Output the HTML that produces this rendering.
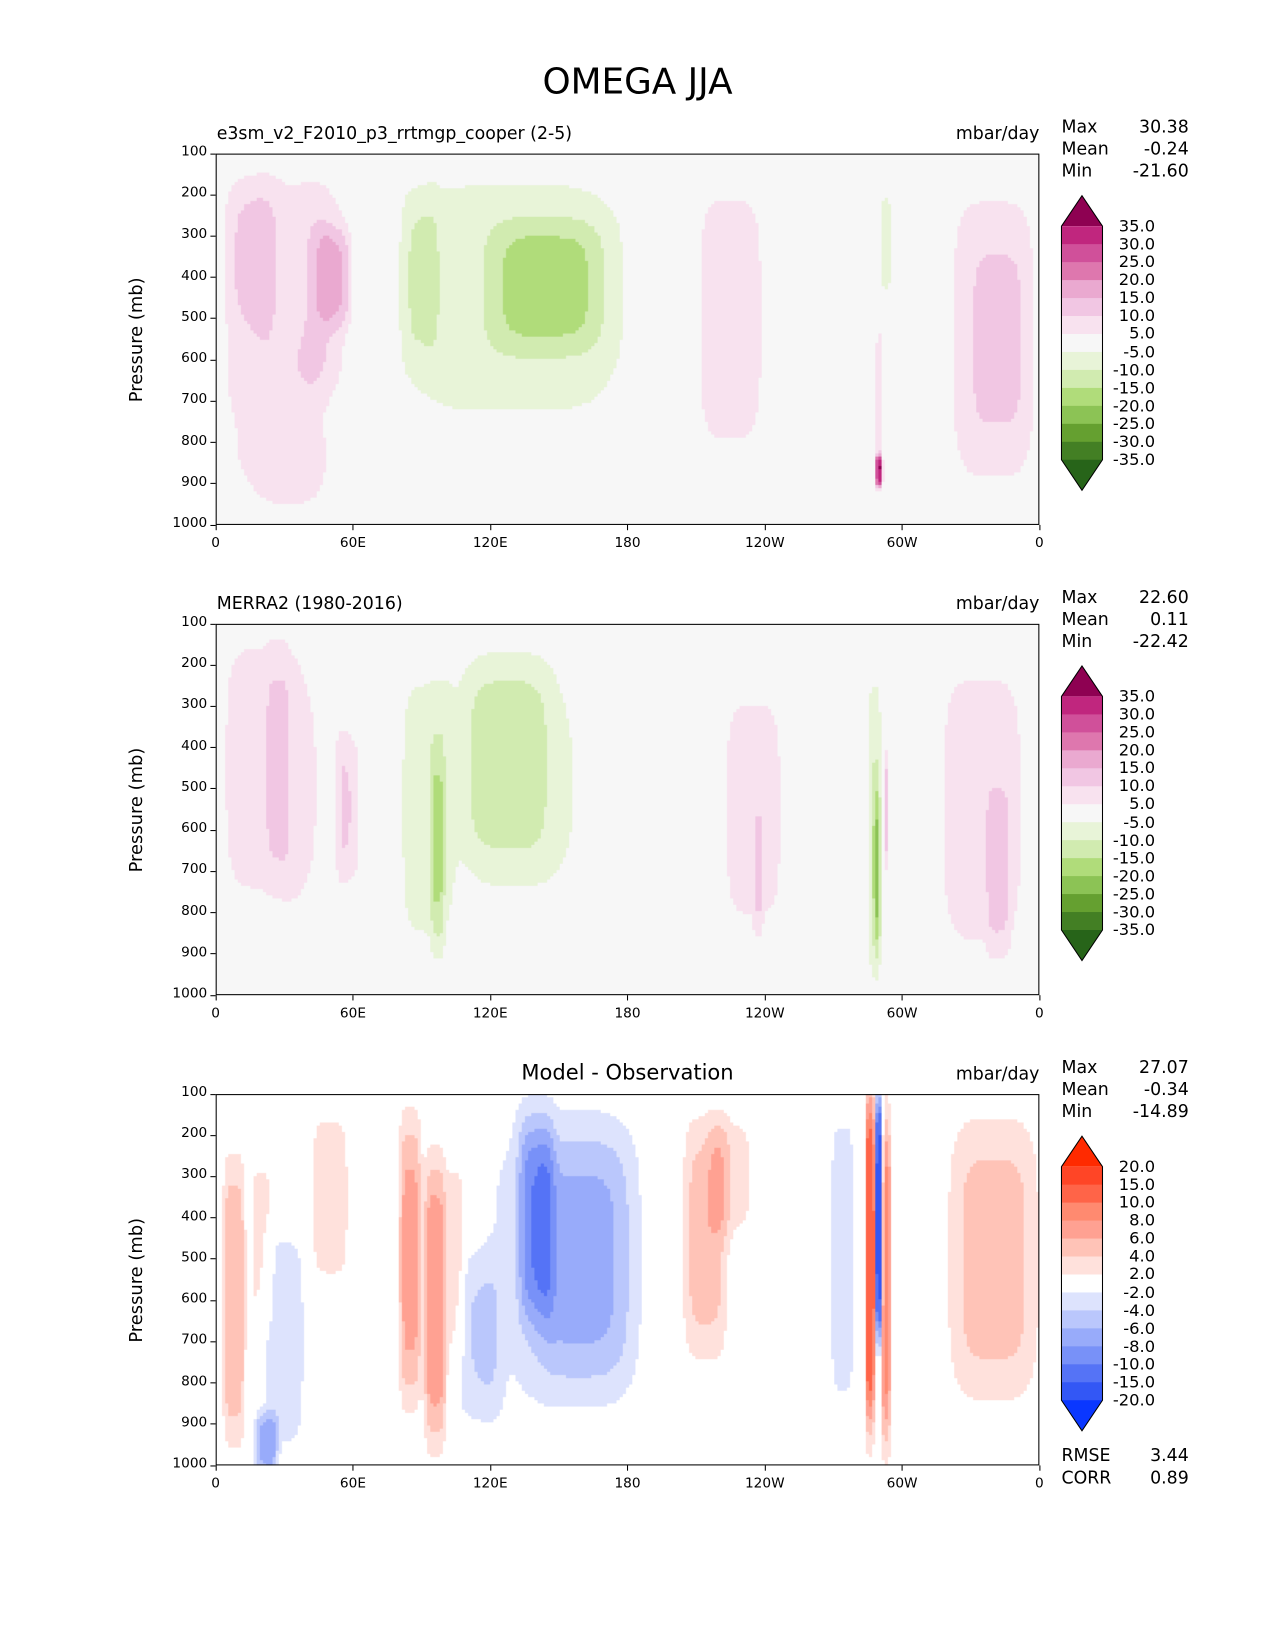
<!DOCTYPE html>
<html><head><meta charset="utf-8">
<style>
body{margin:0;background:#fff;font-family:"DejaVu Sans","Liberation Sans",sans-serif;overflow:hidden;}
#root{position:relative;width:1212px;height:1568px;overflow:hidden;transform:scale(1.052);transform-origin:0 0;}
.t{position:absolute;white-space:nowrap;color:#000;}
canvas{position:absolute;}
</style></head><body>
<div id="root">
<div class="t" style="left:0;width:1212px;text-align:center;top:58px;font-size:34px;">OMEGA JJA</div>
</div>
<script>
// ---- data ----
const lonTicks=[0,60,120,180,240,300,360];
const lonTickLabels=['0','60E','120E','180','120W','60W','0'];
const pTicks=[100,200,300,400,500,600,700,800,900,1000];
const levelsPiYG=[35,30,25,20,15,10,5,-5,-10,-15,-20,-25,-30,-35];
const levelsDiff=[20,15,10,8,6,4,2,-2,-4,-6,-8,-10,-15,-20];
const colorsPiYG=['#8e0152','#c0267e','#d0509a','#de77ae','#eaa9d0','#f1c6e3','#f8e2ef','#f7f7f7','#e8f4d8','#d1ebb0','#b0dc7a','#8cc355','#65a030','#437f24','#276419'];
const colorsDiff=['#ff2a00','#ff4526','#ff6448','#ff8a70','#ffa192','#ffc3b7','#ffe1dc','#ffffff','#dde3fd','#bac7fc','#98abfa','#7891f8','#5573f6','#3357f5','#0a37ff'];
// panel 1 blobs
const p1Lon=[30,15,52,48,25,130,145,90,225,293,290,290,340,342,35];
const p1P=[400,350,400,450,750,450,420,400,500,320,870,700,550,550,900];
const p1WL=[25,12,8,10,25,55,25,8,15,2,1.5,1.5,20,10,20];
const p1WP=[280,180,120,250,200,330,160,200,330,120,40,200,380,200,150];
const p1Amp=[7.5,6,10,4,5.5,-8,-10,-6,9,-10,30,8,9,5,3];
// panel 2 blobs
const p2Lon=[20,27,58,45,92,97,127,140,235,237,288,289,293,335,342];
const p2P=[450,450,550,500,550,650,430,500,550,700,600,700,550,550,700];
const p2WL=[20,5,5,15,12,3,20,40,15,2,3,1.5,1,20,5];
const p2WP=[380,250,180,300,350,250,250,350,330,150,380,200,150,380,200];
const p2Amp=[7,6,8,4,-8,-8,-9,-5,7,6,-10,-12,12,8,6];
// panel 3 blobs (difference)
const p3Lon=[8,20,50,85,96,105,140,160,150,214,225,290,274,286,293,340,30,22,115];
const p3P=[600,450,350,500,600,500,400,500,500,450,300,400,500,500,550,500,700,950,700];
const p3WL=[5,5,8,5,5,4,8,22,40,10,10,1.5,6,2,2,20,10,5,10];
const p3WP=[350,200,200,350,350,250,250,300,420,300,150,280,400,400,400,350,300,80,200];
const p3Amp=[6,3,4,7,8,4,-6,-4.5,-2.5,5,3,-20,-3,15,10,5,-3,-6,-3];
const stats1=['30.38','-0.24','-21.60'];
const stats2=['22.60','0.11','-22.42'];
const stats3=['27.07','-0.34','-14.89'];

const root=document.getElementById('root');
const X0=205,W=783,H=353;
function txt(name,s,l,t,fs,extra){const d=document.createElement('div');d.className='t';


d.textContent=s;d.style.left=l+'px';d.style.top=t+'px';d.style.fontSize=fs+'px';if(extra)Object.assign(d.style,extra);root.appendChild(d);return d;}
function colorFor(v,levels,colors){for(let i=0;i<levels.length;i++){if(v>=levels[i])return colors[i];}return colors[colors.length-1];}
function field(lon,p,b){let s=0;for(let i=0;i<b[0].length;i++){let dl=(lon-b[0][i])/b[2][i],dp=(p-b[1][i])/b[3][i];s+=b[4][i]*Math.exp(-(dl*dl*dl*dl+dp*dp*dp*dp));}return s;}
function panel(idx,Y0,title,blobs,levels,colors,stats,centerTitle){
 const xS=l=>X0+l/360*W, yS=p=>Y0+(p-100)/900*H;
 const c=document.createElement('canvas');c.width=W;c.height=H;c.style.left=X0+'px';c.style.top=Y0+'px';
 
 
 root.appendChild(c);const g=c.getContext('2d');
 const step=3;
 for(let px=0;px<W;px+=step)for(let py=0;py<H;py+=step){
  const lon=(px+1.5)/W*360,p=100+(py+1.5)/H*900;
  g.fillStyle=colorFor(field(lon,p,blobs),levels,colors);g.fillRect(px,py,step,step);}
 const f=document.createElement('div');f.style.cssText=`position:absolute;left:${X0}px;top:${Y0}px;width:${W}px;height:${H}px;border:1px solid #000;box-sizing:border-box;`;
 
 
 root.appendChild(f);
 lonTicks.forEach((l,i)=>{const tk=document.createElement('div');tk.style.cssText=`position:absolute;left:${xS(l)-0.5}px;top:${Y0+H}px;width:1px;height:5px;background:#000`;
  
  
  root.appendChild(tk);
  txt('x-tick-label',lonTickLabels[i],xS(l)-30,Y0+H+10,13,{width:'60px',textAlign:'center'});});
 pTicks.forEach(p=>{const tk=document.createElement('div');tk.style.cssText=`position:absolute;left:${X0-5}px;top:${yS(p)-0.5}px;width:5px;height:1px;background:#000`;
  
  
  root.appendChild(tk);
  txt('y-tick-label',String(p),X0-70,yS(p)-9,13,{width:'62px',textAlign:'right'});});
 txt('y-axis-title','Pressure (mb)',131-60,Y0+H/2-11,17,{width:'120px',textAlign:'center',transform:'rotate(-90deg)',transformOrigin:'60px 11px'});
 if(centerTitle)txt('panel-title',title,X0,Y0-33,20,{width:W+'px',textAlign:'center'});
 else txt('panel-title',title,X0+1,Y0-29,16.5);
 txt('units-label','mbar/day',X0+W-100,Y0-29,16.5,{width:'100px',textAlign:'right'});
 ['Max','Mean','Min'].forEach((s,i)=>{txt('stat-name',s,1009,Y0-35+i*21,16.5);txt('stat-value',stats[i],1040,Y0-35+i*21,16.5,{width:'90px',textAlign:'right'});});
 const cb=document.createElementNS('http://www.w3.org/2000/svg','svg');
 
 
 const top=Y0+69,seg=17.08,n=levels.length-1;
 cb.setAttribute('width','60');cb.setAttribute('height','340');cb.style.cssText=`position:absolute;left:1000px;top:${top-40}px`;
 let s='';const ox=9,oy=40;
 s+=`<polygon points="${ox},${oy} ${ox+19.5},${oy-29} ${ox+39},${oy}" fill="${colors[0]}"/>`;
 for(let i=0;i<n;i++)s+=`<rect x="${ox}" y="${oy+i*seg}" width="39" height="${seg+0.5}" fill="${colors[i+1]}"/>`;
 s+=`<polygon points="${ox},${oy+n*seg} ${ox+19.5},${oy+n*seg+29} ${ox+39},${oy+n*seg}" fill="${colors[colors.length-1]}"/>`;
 s+=`<polygon points="${ox},${oy} ${ox+19.5},${oy-29} ${ox+39},${oy} ${ox+39},${oy+n*seg} ${ox+19.5},${oy+n*seg+29} ${ox},${oy+n*seg}" fill="none" stroke="#000" stroke-width="1"/>`;
 cb.innerHTML=s;root.appendChild(cb);
 levels.forEach((v,i)=>txt('colorbar-label',v.toFixed(1),1040,top+i*seg-9,15.5,{width:'58px',textAlign:'right'}));
}
panel(1,146,'e3sm_v2_F2010_p3_rrtmgp_cooper (2-5)',[p1Lon,p1P,p1WL,p1WP,p1Amp],levelsPiYG,colorsPiYG,stats1,false);
panel(2,593,'MERRA2 (1980-2016)',[p2Lon,p2P,p2WL,p2WP,p2Amp],levelsPiYG,colorsPiYG,stats2,false);
panel(3,1040,'Model - Observation',[p3Lon,p3P,p3WL,p3WP,p3Amp],levelsDiff,colorsDiff,stats3,true);
txt('rmse-label','RMSE',1009,1374,16.5);txt('rmse-value','3.44',1040,1374,16.5,{width:'90px',textAlign:'right'});
txt('corr-label','CORR',1009,1395,16.5);txt('corr-value','0.89',1040,1395,16.5,{width:'90px',textAlign:'right'});
</script>
</body></html>
